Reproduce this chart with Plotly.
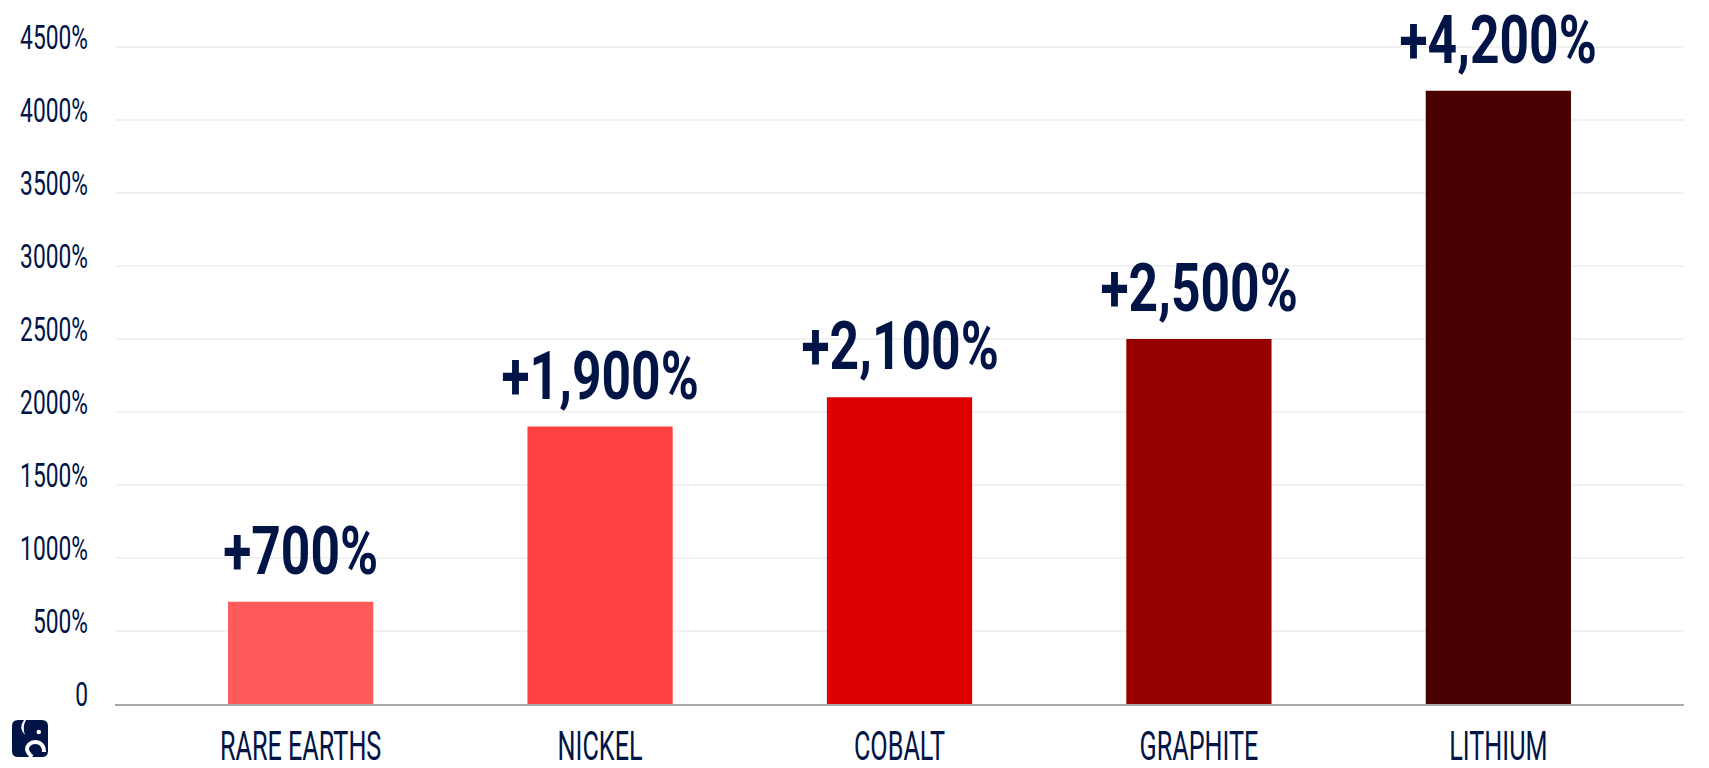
import plotly.graph_objects as go

minerals = ["RARE EARTHS", "NICKEL", "COBALT", "GRAPHITE", "LITHIUM"]
growth_pct = [700, 1900, 2100, 2500, 4200]
growth_labels = ["+700%", "+1,900%", "+2,100%", "+2,500%", "+4,200%"]
bar_colors = ["#ff5a5a", "#ff4040", "#de0000", "#960000", "#4a0000"]
y_ticks = [0, 500, 1000, 1500, 2000, 2500, 3000, 3500, 4000, 4500]
y_tick_labels = ["0", "500%", "1000%", "1500%", "2000%", "2500%", "3000%", "3500%", "4000%", "4500%"]

navy = "#001446"
fig_w, fig_h = 1709, 768
m_l, m_r, m_t, m_b = 115, 25, 44, 64


def px_path(points):
    # pixel positions on the page -> paper coordinates for the logo shapes
    out = []
    for item in points:
        if isinstance(item, str):
            out.append(item)
        else:
            x = (item[0] - m_l) / (fig_w - m_l - m_r)
            y = 1 - (item[1] - m_t) / (fig_h - m_t - m_b)
            out.append(f"{x:.5f},{y:.5f}")
    return " ".join(out)


fig = go.Figure()
fig.add_trace(go.Bar(
    x=minerals,
    y=growth_pct,
    width=0.485,
    marker=dict(color=bar_colors, line_width=0),
    hoverinfo="skip",
))

for mineral, value, label in zip(minerals, growth_pct, growth_labels):
    fig.add_annotation(
        x=mineral, y=value, text=label, showarrow=False,
        yanchor="bottom", yshift=10,
        font=dict(family="Roboto", size=67, color=navy, weight="bold"),
    )

logo_shapes = [
    # rounded square
    dict(path=px_path(["M", (18, 720), "L", (42, 720), "Q", (48, 720), (48, 726), "L", (48, 751),
                       "Q", (48, 757), (42, 757), "L", (18, 757), "Q", (12, 757), (12, 751),
                       "L", (12, 726), "Q", (12, 720), (18, 720), "Z"]),
         fillcolor=navy, line_width=0),
    # ear
    dict(path=px_path(["M", (24, 720), "Q", (18, 728), (25, 735), "Q", (22, 727), (26, 720), "Z"]),
         fillcolor="white", line_width=0),
    # eye
    dict(path=px_path(["M", (36.5, 732), "Q", (36.5, 729.8), (38.7, 729.8), "Q", (41, 729.8), (41, 732),
                       "Q", (41, 734.2), (38.7, 734.2), "Q", (36.5, 734.2), (36.5, 732), "Z"]),
         fillcolor="white", line_width=0),
    # trunk
    dict(path=px_path(["M", (44, 752), "C", (44, 745), (40, 742), (35, 742), "C", (30, 742), (27, 746), (27, 749),
                       "C", (27, 752), (29, 754), (32, 757)]),
         line=dict(color="white", width=4)),
]
for logo_shape in logo_shapes:
    fig.add_shape(xref="paper", yref="paper", **logo_shape)

fig.update_layout(
    width=fig_w,
    height=fig_h,
    margin=dict(l=m_l, r=m_r, t=m_t, b=m_b, autoexpand=False),
    paper_bgcolor="white",
    plot_bgcolor="white",
    showlegend=False,
    font=dict(family="Roboto", color=navy),
)
fig.update_xaxes(
    range=[-0.62, 4.62],
    automargin=False,
    tickfont=dict(size=40, color=navy),
    showgrid=False,
    showline=True,
    linecolor="#a9a9a9",
    linewidth=2,
    ticks="",
    ticklabeloverflow="allow",
)
fig.update_yaxes(
    range=[0, 4520],
    automargin=False,
    tickvals=y_ticks,
    ticktext=y_tick_labels,
    tickfont=dict(size=34, color=navy),
    gridcolor="#f2f2f2",
    gridwidth=2,
    zeroline=False,
    ticks="",
    ticklabelstandoff=26,
    ticklabeloverflow="allow",
)

# none of the installed fonts is condensed, so narrow the glyphs of the real text
squeeze = """
function squeeze(selector, factor) {
  document.querySelectorAll(selector).forEach(function (t) {
    t.setAttribute('textLength', t.getComputedTextLength() * factor);
    t.setAttribute('lengthAdjust', 'spacingAndGlyphs');
  });
}
function nudge(selector, dy) {
  document.querySelectorAll(selector).forEach(function (t) {
    t.setAttribute('y', parseFloat(t.getAttribute('y')) + dy);
  });
}
squeeze('.xtick text', 0.63);
squeeze('.ytick text', 0.67);
squeeze('.annotation-text', 0.77);
// tick labels are offset from the axis in the reference
nudge('.ytick text', -10);
nudge('.xtick text', 6);
document.body.style.margin = '0';
"""
fig.write_html("out.html", config={"displayModeBar": False}, post_script=squeeze)
